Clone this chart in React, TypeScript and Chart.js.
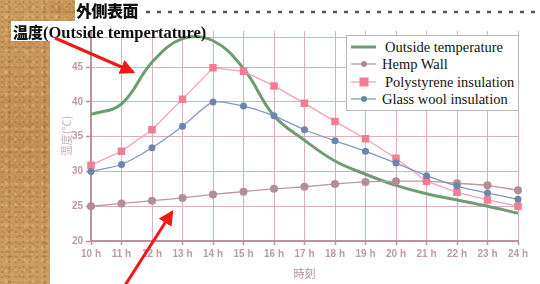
import React, { useEffect, useRef } from "react";
import { Chart, registerables } from "chart.js";

Chart.register(...registerables);

const HOURS = ["10 h", "11 h", "12 h", "13 h", "14 h", "15 h", "16 h", "17 h", "18 h", "19 h", "20 h", "21 h", "22 h", "23 h", "24 h"];
const OUTSIDE = [38.2, 39.7, 45.7, 49.1, 48.8, 44.8, 38.0, 34.5, 31.5, 29.6, 28.0, 26.8, 25.9, 25.0, 24.0];
const HEMP = [25.0, 25.4, 25.8, 26.2, 26.7, 27.1, 27.5, 27.8, 28.2, 28.5, 28.6, 28.6, 28.3, 28.0, 27.3];
const POLY = [30.9, 32.9, 36.0, 40.4, 44.9, 44.4, 42.3, 39.8, 37.2, 34.7, 31.9, 28.6, 27.0, 25.9, 25.0];
const GLASS = [30.0, 31.0, 33.4, 36.5, 40.0, 39.4, 38.0, 36.0, 34.4, 32.9, 31.2, 29.4, 27.9, 26.9, 26.0];
const SERIES_NAMES = ["Outside temperature", "Hemp Wall", "Polystyrene insulation", "Glass wool insulation"];
const Y_TICKS = [20, 25, 30, 35, 40, 45];
const Y_TOP_LINE = 49.3;
const Y_MIN = 20;
const Y_MAX = 50.2;

const C_OUT = "#6f9c74";
const C_HEMP = "#b48c95";
const C_HEMP_LINE = "#bc98a0";
const C_POLY = "#f47c95";
const C_POLY_LINE = "#f2a2b2";
const C_GLASS = "#6c85aa";
const C_GLASS_LINE = "#8098bb";
const TICK_COLOR = "#bb9ba4";
const GRID = "#dcb0b9";
const AXIS = "#b8939c";

function ChartCanvas() {
  const ref = useRef<HTMLCanvasElement | null>(null);
  useEffect(() => {
    if (!ref.current) return;
    const chart = new Chart(ref.current, {
      type: "line",
      data: {
        labels: HOURS,
        datasets: [
          {
            label: SERIES_NAMES[0],
            data: OUTSIDE,
            borderColor: C_OUT,
            borderWidth: 3,
            pointRadius: 0,
            tension: 0.4,
            order: 4,
          },
          {
            label: SERIES_NAMES[1],
            data: HEMP,
            borderColor: C_HEMP_LINE,
            backgroundColor: C_HEMP,
            borderWidth: 1.3,
            pointRadius: 4,
            pointBorderWidth: 0,
            pointBackgroundColor: C_HEMP,
            tension: 0.2,
            order: 3,
          },
          {
            label: SERIES_NAMES[2],
            data: POLY,
            borderColor: C_POLY_LINE,
            backgroundColor: C_POLY,
            borderWidth: 1.3,
            pointStyle: "rect",
            pointRadius: 5.3,
            pointBorderWidth: 0,
            pointBackgroundColor: C_POLY,
            tension: 0,
            order: 2,
          },
          {
            label: SERIES_NAMES[3],
            data: GLASS,
            borderColor: C_GLASS_LINE,
            backgroundColor: C_GLASS,
            borderWidth: 1.3,
            pointRadius: 3.5,
            pointBorderWidth: 0,
            pointBackgroundColor: C_GLASS,
            tension: 0.2,
            order: 1,
          },
        ],
      },
      options: {
        animation: false,
        responsive: false,
        devicePixelRatio: 1,
        layout: { padding: { left: 51, top: 31, right: 22, bottom: 0 } },
        plugins: { legend: { display: false }, tooltip: { enabled: false } },
        scales: {
          x: {
            type: "category",
            offset: false,
            grid: { color: GRID, lineWidth: 1, drawTicks: true, tickLength: 4, tickColor: AXIS, tickWidth: 1.5 },
            border: { color: AXIS, width: 2 },
            ticks: {
              color: TICK_COLOR,
              font: { family: "'Liberation Sans', Arial, sans-serif", size: 10, weight: "bold" },
              padding: 3,
              maxRotation: 0,
              autoSkip: false,
            },
            title: {
              display: true,
              text: "時刻",
              color: "#b58fa0",
              font: { family: "'Noto Sans CJK JP', sans-serif", size: 11 },
              padding: { top: 0, bottom: 4 },
            },
            afterFit: (s: any) => {
              s.height = 43;
            },
          },
          y: {
            type: "linear",
            min: Y_MIN,
            max: Y_MAX,
            afterBuildTicks: (axis: any) => {
              axis.ticks = [...Y_TICKS, Y_TOP_LINE].map((v) => ({ value: v }));
            },
            grid: { color: GRID, lineWidth: 1, drawTicks: true, tickLength: 5, tickColor: AXIS, tickWidth: 1.5 },
            border: { color: AXIS, width: 2 },
            ticks: {
              color: TICK_COLOR,
              font: { family: "'Liberation Sans', Arial, sans-serif", size: 10, weight: "bold" },
              padding: 3,
              callback: (v: any) => (Y_TICKS.includes(Number(v)) ? String(v) : ""),
            },
            title: {
              display: true,
              text: "温度(℃)",
              color: "#cbaebb",
              font: { family: "'Noto Sans CJK JP', sans-serif", size: 11 },
              padding: { top: 9, bottom: 0 },
            },
            afterFit: (s: any) => {
              s.width = 40;
            },
          },
        },
      },
    });
    return () => chart.destroy();
  }, []);
  return <canvas ref={ref} width={540} height={284} style={{ position: "absolute", left: 0, top: 0, width: 540, height: 284 }} />;
}

const woodBg: React.CSSProperties = {
  backgroundColor: "#c6965d",
  backgroundImage: [
    "radial-gradient(ellipse 2px 1px at 30% 40%, rgba(120,70,25,0.5) 0%, rgba(120,70,25,0) 100%)",
    "radial-gradient(ellipse 2px 3px at 70% 60%, rgba(235,200,140,0.5) 0%, rgba(235,200,140,0) 100%)",
    "radial-gradient(ellipse 3px 1.5px at 50% 50%, rgba(150,95,40,0.4) 0%, rgba(150,95,40,0) 100%)",
    "radial-gradient(ellipse 1.5px 2.5px at 40% 30%, rgba(225,185,120,0.45) 0%, rgba(225,185,120,0) 100%)",
    "radial-gradient(ellipse 5px 2px at 60% 70%, rgba(140,85,35,0.3) 0%, rgba(140,85,35,0) 100%)",
    "radial-gradient(ellipse 6px 4px at 20% 80%, rgba(230,190,130,0.3) 0%, rgba(230,190,130,0) 100%)",
    "linear-gradient(180deg, #c99a60 0%, #c18e54 45%, #ca9b62 100%)",
  ].join(","),
  backgroundSize: "7px 5px, 9px 11px, 13px 8px, 5px 7px, 17px 13px, 23px 19px, 100% 100%",
};

function LegendMarker({ i }: { i: number }) {
  const colors = [C_OUT, C_HEMP_LINE, C_POLY_LINE, C_GLASS_LINE];
  const w = [3, 1.3, 1.3, 1.3][i];
  return (
    <svg width={26} height={12} style={{ position: "absolute", left: 351, top: [41, 58, 76, 93][i] }}>
      <line x1={0} y1={6} x2={25} y2={6} stroke={colors[i]} strokeWidth={w} />
      {i === 1 && <circle cx={13} cy={6} r={3} fill={C_HEMP} />}
      {i === 2 && <rect x={8.5} y={1.5} width={9} height={9} fill={C_POLY} />}
      {i === 3 && <circle cx={13} cy={6} r={3} fill={C_GLASS} />}
    </svg>
  );
}

export default function App() {
  const serif = "'Liberation Serif', 'Times New Roman', serif";
  return (
    <div style={{ position: "fixed", left: 0, top: 0, width: 540, height: 284, background: "#fff", overflow: "hidden" }}>
      <ChartCanvas />
      {/* wood texture */}
      <div style={{ position: "absolute", left: 0, top: 0, width: 50, height: 284, ...woodBg }} />
      <div style={{ position: "absolute", left: 50, top: 0, width: 25, height: 21, ...woodBg }} />
      {/* white label patch over wood */}
      <div style={{ position: "absolute", left: 11, top: 21, width: 40, height: 20, background: "#fff" }} />
      {/* heading */}
      <div
        style={{
          position: "absolute",
          left: 76,
          top: 0,
          height: 21,
          lineHeight: "21px",
          fontFamily: "'Noto Sans CJK JP', sans-serif",
          fontWeight: 900,
          fontSize: 16,
          color: "#111",
          letterSpacing: -0.5,
        }}
      >
        外側表面
      </div>
      <svg width={400} height={20} style={{ position: "absolute", left: 144, top: 2 }}>
        <line x1={2} y1={10} x2={400} y2={10} stroke="#555" strokeWidth={2.6} strokeDasharray="4 7" />
      </svg>
      <div
        style={{
          position: "absolute",
          left: 11,
          top: 21,
          height: 21,
          lineHeight: "21px",
          whiteSpace: "nowrap",
          fontWeight: 700,
          color: "#111",
        }}
      >
        <span style={{ fontFamily: "'Noto Sans CJK JP', sans-serif", fontSize: 15, fontWeight: 900, marginLeft: 2 }}>温度</span>
        <span style={{ fontFamily: serif, fontSize: 16.5 }}>(Outside tempertature)</span>
      </div>
      {/* legend */}
      <div
        style={{
          position: "absolute",
          left: 346,
          top: 35,
          width: 173,
          height: 76,
          background: "#fff",
          border: "1px solid #b9b9b9",
          boxSizing: "border-box",
        }}
      />
      {SERIES_NAMES.map((n, i) => (
        <React.Fragment key={n}>
          <LegendMarker i={i} />
          <div
            style={{
              position: "absolute",
              left: i === 0 || i === 2 ? 385 : 382,
              top: [38, 55, 73, 90][i],
              fontFamily: serif,
              fontSize: 14.5,
              lineHeight: "18px",
              color: "#141414",
              whiteSpace: "nowrap",
            }}
          >
            {n}
          </div>
        </React.Fragment>
      ))}
      {/* red arrows */}
      <svg width={540} height={284} style={{ position: "absolute", left: 0, top: 0, pointerEvents: "none" }}>
        <defs>
          <marker id="ah" markerWidth="5" markerHeight="5" refX="4.2" refY="2.5" orient="auto" markerUnits="strokeWidth">
            <path d="M0,0 L5,2.5 L0,5 z" fill="#f01818" />
          </marker>
        </defs>
        <line x1={55} y1={38} x2={133} y2={72} stroke="#f01818" strokeWidth={3} markerEnd="url(#ah)" />
        <line x1={122} y1={290} x2={172} y2={212} stroke="#f01818" strokeWidth={3} markerEnd="url(#ah)" />
      </svg>
    </div>
  );
}
